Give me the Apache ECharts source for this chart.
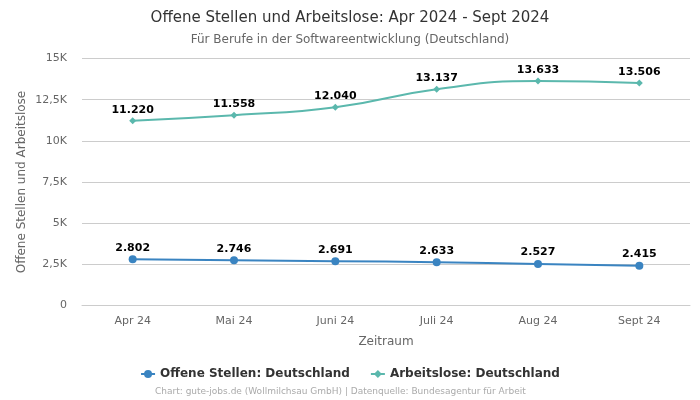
<!DOCTYPE html>
<html>
<head>
<meta charset="utf-8">
<script src="https://cdn.jsdelivr.net/npm/echarts@6/dist/echarts.min.js"></script>
<style>html,body{margin:0;padding:0;background:#fff}#c{width:700px;height:400px}</style>
</head>
<body>
<div id="c"></div>
<script>
const categories = ['Apr 24', 'Mai 24', 'Juni 24', 'Juli 24', 'Aug 24', 'Sept 24'];
const offeneStellen = [2802, 2746, 2691, 2633, 2527, 2415];
const arbeitslose = [11220, 11558, 12040, 13137, 13633, 13506];
const yTicks = {0: '0', 2500: '2,5K', 5000: '5K', 7500: '7,5K', 10000: '10K', 12500: '12,5K', 15000: '15K'};

const fmt = v => v.toString().replace(/\B(?=(\d{3})+(?!\d))/g, '.');
const font = 'DejaVu Sans';
const chart = echarts.init(document.getElementById('c'), null, {renderer: 'canvas'});
chart.setOption({
  animation: false,
  textStyle: {fontFamily: font},
  title: [
    {text: 'Offene Stellen und Arbeitslose: Apr 2024 - Sept 2024', left: 'center', top: 6,
     textStyle: {fontFamily: font, fontSize: 15, fontWeight: 'normal', color: '#333'}},
    {text: 'Für Berufe in der Softwareentwicklung (Deutschland)', left: 'center', top: 29,
     textStyle: {fontFamily: font, fontSize: 12, fontWeight: 'normal', color: '#666'}},
    {text: 'Chart: gute-jobs.de (Wollmilchsau GmbH) | Datenquelle: Bundesagentur für Arbeit', left: 150, top: 382,
     textStyle: {fontFamily: font, fontSize: 9, fontWeight: 'normal', color: '#aaa'}}
  ],
  grid: {left: 82, right: 10, top: 58.5, bottom: 94.5, outerBoundsMode: 'none'},
  legend: {
    bottom: 15, left: 'center', itemGap: 20, itemWidth: 14, itemHeight: 10,
    textStyle: {fontFamily: font, fontSize: 12, fontWeight: 'bold', color: '#333'},
    data: ['Offene Stellen: Deutschland', 'Arbeitslose: Deutschland']
  },
  xAxis: {
    type: 'category', data: categories, boundaryGap: true,
    name: 'Zeitraum', nameLocation: 'middle', nameGap: 30,
    nameTextStyle: {fontFamily: font, fontSize: 12, color: '#666'},
    axisLine: {show: true, lineStyle: {color: '#ccc'}},
    axisTick: {show: false},
    axisLabel: {color: '#666', fontSize: 11, fontFamily: font, margin: 10}
  },
  yAxis: {
    type: 'value', min: 0, max: 15000, interval: 2500,
    name: 'Offene Stellen und Arbeitslose', nameLocation: 'middle', nameGap: 54,
    nameMoveOverlap: false,
    nameTextStyle: {fontFamily: font, fontSize: 12, color: '#666'},
    axisLine: {show: false}, axisTick: {show: false},
    splitLine: {lineStyle: {color: '#ccc'}},
    axisLabel: {color: '#666', fontSize: 11, fontFamily: font, margin: 15, formatter: v => yTicks[v] ?? ''}
  },
  series: [
    {
      name: 'Offene Stellen: Deutschland', type: 'line', smooth: true, data: offeneStellen,
      symbol: 'circle', symbolSize: 8,
      itemStyle: {color: '#3a84c1'}, lineStyle: {width: 2, color: '#3a84c1'},
      label: {show: true, position: 'top', distance: 2, formatter: p => fmt(p.value),
        fontFamily: font, fontSize: 11, fontWeight: 'bold', color: '#000'}
    },
    {
      name: 'Arbeitslose: Deutschland', type: 'line', smooth: true, data: arbeitslose,
      symbol: 'diamond', symbolSize: 7,
      itemStyle: {color: '#5bb8ad'}, lineStyle: {width: 2, color: '#5bb8ad'},
      label: {show: true, position: 'top', distance: 2, formatter: p => fmt(p.value),
        fontFamily: font, fontSize: 11, fontWeight: 'bold', color: '#000'}
    }
  ]
});
</script>
</body>
</html>
